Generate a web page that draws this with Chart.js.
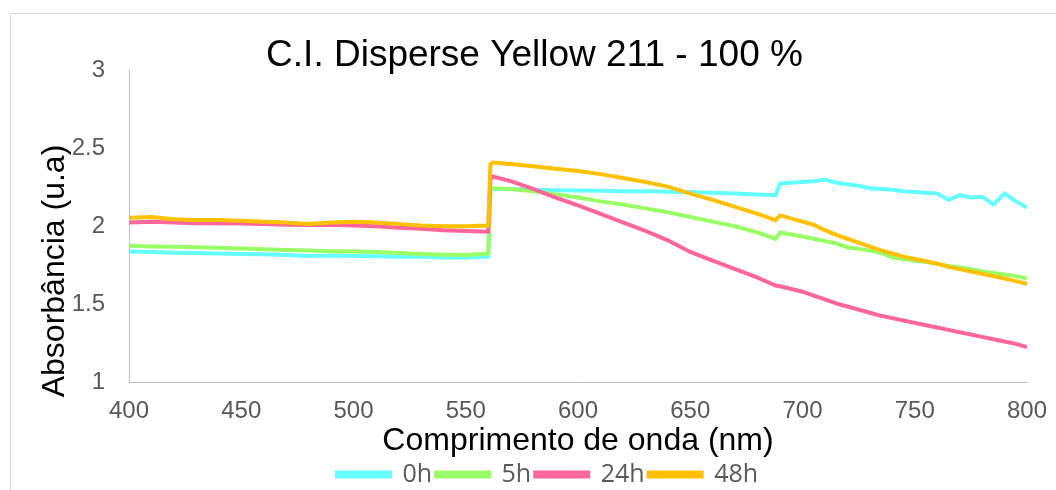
<!DOCTYPE html>
<html>
<head>
<meta charset="utf-8">
<script src="https://cdn.jsdelivr.net/npm/chart.js@4.4.1/dist/chart.umd.min.js"></script>
<style>
  html, body { margin: 0; padding: 0; background: #fff; overflow: hidden; }
  #wrap { position: relative; width: 1056px; height: 490px; }
  #frame { position: absolute; left: 10px; top: 13px; width: 1100px; height: 600px; border: 1px solid #d9d9d9; }
  #chart { position: absolute; left: 0; top: 0; }
</style>
</head>
<body>
<div id="wrap">
  <div id="frame"></div>
  <canvas id="chart" width="1056" height="490"></canvas>
</div>
<script>
// wavelengths (nm)
const wavelengths = [400, 410, 420, 430, 440, 450, 460, 470, 480, 490, 500, 510, 520, 530, 540, 550, 560, 561, 562,
  570, 580, 590, 600, 610, 620, 630, 640, 650, 660, 670, 680, 688, 690,
  700, 705, 710, 715, 720, 725, 730, 735, 740, 745, 750, 755, 760, 765, 770, 775, 780, 785, 790, 795, 800];

const abs0h = [1.838, 1.835, 1.83, 1.828, 1.825, 1.822, 1.82, 1.815, 1.81, 1.812, 1.81, 1.808, 1.805, 1.805, 1.8, 1.8, 1.805, 2.24, 2.24,
  2.24, 2.235, 2.232, 2.23, 2.228, 2.225, 2.225, 2.222, 2.218, 2.215, 2.21, 2.205, 2.2, 2.275,
  2.285, 2.29, 2.3, 2.28, 2.27, 2.26, 2.245, 2.24, 2.235, 2.225, 2.22, 2.215, 2.21, 2.17, 2.2, 2.185, 2.19, 2.14, 2.21, 2.16, 2.12];

const abs5h = [1.875, 1.87, 1.868, 1.865, 1.862, 1.858, 1.852, 1.848, 1.845, 1.84, 1.838, 1.835, 1.828, 1.822, 1.818, 1.815, 1.825, 2.24, 2.245,
  2.24, 2.225, 2.205, 2.185, 2.16, 2.14, 2.115, 2.09, 2.06, 2.03, 2.0, 1.96, 1.92, 1.96,
  1.935, 1.92, 1.905, 1.89, 1.865, 1.855, 1.845, 1.83, 1.8, 1.79, 1.78, 1.77, 1.76, 1.745, 1.735, 1.725, 1.71, 1.7, 1.69, 1.68, 1.665];

const abs24h = [2.025, 2.03, 2.025, 2.02, 2.02, 2.018, 2.015, 2.01, 2.008, 2.01, 2.005, 2.0, 1.99, 1.985, 1.975, 1.97, 1.965, 2.3, 2.32,
  2.29, 2.24, 2.185, 2.135, 2.08, 2.025, 1.97, 1.91, 1.835, 1.78, 1.725, 1.67, 1.62, 1.615,
  1.58, 1.555, 1.53, 1.505, 1.485, 1.465, 1.445, 1.425, 1.41, 1.395, 1.38, 1.365, 1.35, 1.335, 1.32, 1.305, 1.29, 1.275, 1.26, 1.245, 1.225];

const abs48h = [2.055, 2.06, 2.045, 2.04, 2.04, 2.035, 2.03, 2.025, 2.015, 2.025, 2.03, 2.025, 2.015, 2.005, 2.0, 2.0, 2.005, 2.4, 2.41,
  2.4, 2.385, 2.37, 2.355, 2.335, 2.31, 2.285, 2.255, 2.21, 2.17, 2.125, 2.08, 2.04, 2.07,
  2.03, 2.01, 1.975, 1.945, 1.92, 1.895, 1.87, 1.845, 1.825, 1.805, 1.79, 1.775, 1.76, 1.74, 1.725, 1.71, 1.695, 1.68, 1.665, 1.648, 1.63];

const seriesNames = ['0h', '5h', '24h', '48h'];
const seriesColors = ['#66FFFF', '#99FF66', '#FF6699', '#FFC000'];
const xTicks = [400, 450, 500, 550, 600, 650, 700, 750, 800];
const yTicks = [1, 1.5, 2, 2.5, 3];

const toPoints = arr => arr.map((v, i) => ({ x: wavelengths[i], y: v }));
const allSeries = [abs0h, abs5h, abs24h, abs48h];

const datasets = allSeries.map((s, i) => ({
  label: seriesNames[i],
  data: toPoints(s),
  borderColor: seriesColors[i],
  backgroundColor: seriesColors[i],
  borderWidth: 4,
  pointRadius: 0,
  tension: 0,
  fill: false,
  order: 4 - i
}));

// y axis title, placed like in the original (a bit below centre)
const yTitlePlugin = {
  id: 'yTitle',
  afterLayout(chart) {
    // legend sits a little right of centre in the original
    chart.legend.left += 13;
    chart.legend.right += 13;
  },
  afterDraw(chart) {
    const c = chart.ctx;
    c.save();
    c.translate(55, 271);
    c.rotate(-Math.PI / 2);
    c.font = '32px "Liberation Sans", Arial, sans-serif';
    c.fillStyle = '#000';
    c.textAlign = 'center';
    c.textBaseline = 'middle';
    c.fillText('Absorbância (u.a)', 0, 0);
    c.restore();
  }
};

const tickFont = { family: '"Liberation Sans", Arial, sans-serif', size: 24 };

new Chart(document.getElementById('chart').getContext('2d'), {
  type: 'line',
  data: { datasets },
  plugins: [yTitlePlugin],
  options: {
    responsive: false,
    animation: false,
    layout: { padding: { left: 42, right: 29, top: 0, bottom: -7 } },
    scales: {
      x: {
        type: 'linear',
        min: 400,
        max: 800,
        afterBuildTicks: s => { s.ticks = xTicks.map(v => ({ value: v })); },
        afterFit: s => { s.height = 76; s.paddingLeft = 0; s.paddingRight = 0; },
        grid: { display: false, drawTicks: false },
        border: { display: true, color: '#bfbfbf', width: 1 },
        ticks: { color: '#595959', font: tickFont, padding: 15, maxRotation: 0 },
        title: {
          display: true,
          text: 'Comprimento de onda (nm)',
          color: '#000',
          font: { family: '"Liberation Sans", Arial, sans-serif', size: 32, lineHeight: 1 },
          padding: { top: 0, bottom: 1 }
        }
      },
      y: {
        min: 1,
        max: 3,
        afterBuildTicks: s => { s.ticks = yTicks.map(v => ({ value: v })); },
        afterFit: s => { s.width = 87; },
        grid: { display: false, drawTicks: false },
        border: { display: true, color: '#bfbfbf', width: 1 },
        ticks: { color: '#595959', font: tickFont, padding: 24, callback: v => String(v) }
      }
    },
    plugins: {
      title: {
        display: true,
        text: 'C.I. Disperse Yellow 211 - 100 %',
        color: '#000',
        font: { family: '"Liberation Sans", Arial, sans-serif', size: 37, weight: 'normal', lineHeight: 0.8 },
        padding: { top: 41, bottom: 0 }
      },
      legend: {
        position: 'bottom',
        labels: {
          sort: (a, b) => a.datasetIndex - b.datasetIndex,
          boxWidth: 53,
          boxHeight: 4,
          padding: 4,
          color: '#595959',
          font: { family: '"Open Sans", sans-serif', size: 25 }
        }
      },
      tooltip: { enabled: false }
    }
  }
});
</script>
</body>
</html>
